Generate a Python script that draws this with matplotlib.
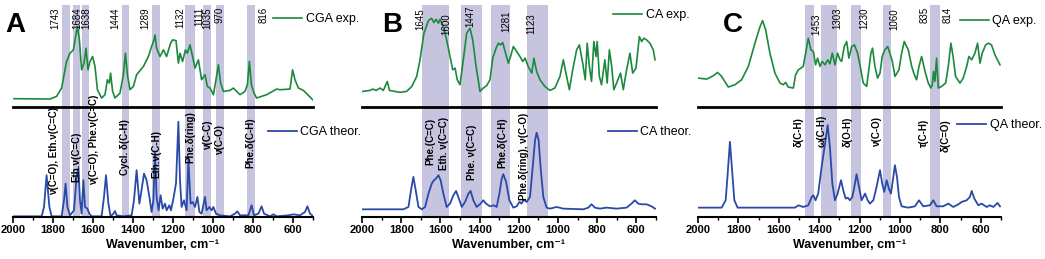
import matplotlib
matplotlib.use("Agg")
import matplotlib.pyplot as plt
from matplotlib.ticker import MultipleLocator

plt.rcParams['font.family'] = ['Liberation Sans', 'DejaVu Sans']

W, H = 1045, 259
GREEN = '#1b8a3c'
BLUE = '#2a4aa8'
BAND = '#c6c4df'

# ---- CGA (panel A) ----
cga_exp_wn = [1995, 1815, 1782, 1757, 1732, 1715, 1698, 1690, 1678, 1668,
              1657, 1645, 1635, 1625, 1615, 1602, 1590, 1578, 1557, 1540,
              1528, 1518, 1512, 1502, 1490, 1465, 1448, 1438, 1428, 1415,
              1398, 1382, 1348, 1323, 1307, 1295, 1290, 1282, 1265, 1248,
              1232, 1212, 1202, 1185, 1173, 1165, 1152, 1138, 1128, 1115,
              1102, 1090, 1073, 1057, 1040, 1028, 1015, 998, 985, 973,
              962, 948, 915, 898, 865, 840, 828, 818, 808, 795,
              782, 732, 682, 665, 615, 602, 590, 573, 548, 515, 502]
cga_exp_int = [25, 24, 32, 57, 137, 162, 172, 202, 242, 202,
               112, 132, 177, 112, 137, 152, 122, 52, 27, 37,
               82, 72, 102, 47, 27, 42, 97, 162, 97, 52,
               62, 97, 122, 152, 182, 202, 217, 177, 152, 172,
               152, 192, 202, 200, 132, 162, 137, 172, 162, 187,
               152, 117, 142, 82, 97, 62, 57, 37, 82, 127,
               72, 47, 50, 57, 37, 47, 67, 137, 67, 42,
               27, 37, 54, 52, 54, 112, 82, 57, 50, 30, 22]
cga_th_wn = [1995, 1857, 1845, 1832, 1818, 1807, 1757, 1745, 1737, 1728,
             1715, 1695, 1682, 1673, 1665, 1657, 1648, 1640, 1628, 1618,
             1607, 1557, 1545, 1535, 1523, 1512, 1498, 1490, 1482, 1448,
             1407, 1395, 1382, 1368, 1360, 1345, 1332, 1318, 1307, 1298,
             1290, 1282, 1272, 1262, 1252, 1240, 1232, 1218, 1210, 1198,
             1185, 1173, 1165, 1157, 1145, 1132, 1123, 1112, 1102, 1090,
             1078, 1068, 1057, 1040, 1032, 1018, 1007, 998, 985, 965,
             915, 890, 878, 865, 823, 807, 795, 773, 757, 745,
             715, 698, 682, 623, 598, 565, 540, 528, 515, 498]
cga_th_int = [2, 2, 30, 125, 30, 2, 2, 50, 100, 30,
              5, 20, 120, 145, 50, 10, 110, 30, 25, 10,
              2, 2, 60, 125, 40, 2, 10, 18, 5, 2,
              5, 50, 140, 40, 70, 130, 110, 60, 15, 50,
              195, 60, 20, 65, 25, 40, 20, 35, 20, 55,
              100, 285, 110, 30, 50, 20, 170, 40, 45, 30,
              60, 15, 10, 60, 20, 30, 20, 30, 10, 5,
              2, 10, 17, 5, 5, 35, 5, 10, 32, 10,
              2, 8, 2, 5, 8, 5, 15, 32, 10, 2]
cga_bands = [(1757, 1715), (1702, 1665), (1657, 1618), (1457, 1418), (1307, 1265),
             (1140, 1090), (1052, 1012), (985, 945), (832, 790)]

# ---- CA (panel B) ----
ca_exp_wn = [1996, 1959, 1945, 1928, 1908, 1891, 1871, 1860, 1806, 1772,
             1746, 1721, 1704, 1684, 1661, 1645, 1633, 1622, 1610, 1602,
             1588, 1568, 1551, 1537, 1525, 1514, 1500, 1483, 1466, 1449,
             1435, 1418, 1398, 1381, 1364, 1347, 1333, 1316, 1304, 1293,
             1282, 1270, 1253, 1242, 1228, 1211, 1194, 1180, 1168, 1152,
             1134, 1123, 1109, 1092, 1067, 1041, 1016, 990, 973, 956,
             942, 925, 905, 891, 874, 861, 851, 840, 829, 817,
             806, 800, 789, 778, 761, 749, 738, 726, 715, 701,
             681, 667, 650, 633, 619, 602, 585, 573, 562, 548,
             531, 514, 505]
ca_exp_int = [47, 50, 54, 50, 57, 50, 77, 50, 44, 47,
              62, 92, 142, 222, 260, 267, 254, 264, 252, 264,
              247, 202, 152, 112, 117, 82, 67, 142, 222, 237,
              202, 122, 47, 57, 64, 82, 147, 177, 192, 187,
              194, 167, 132, 152, 182, 167, 152, 137, 147, 122,
              102, 147, 107, 82, 62, 50, 57, 92, 142, 92,
              52, 112, 172, 187, 132, 82, 192, 122, 77, 197,
              152, 197, 92, 67, 142, 72, 172, 122, 52, 72,
              102, 52, 112, 162, 102, 117, 212, 197, 207, 202,
              192, 172, 142]
ca_th_wn = [1996, 1789, 1763, 1750, 1738, 1726, 1712, 1695, 1678, 1661,
            1644, 1633, 1622, 1610, 1599, 1585, 1568, 1551, 1534, 1520,
            1509, 1491, 1474, 1457, 1446, 1432, 1415, 1395, 1381, 1367,
            1347, 1327, 1313, 1299, 1287, 1279, 1265, 1248, 1228, 1211,
            1197, 1186, 1174, 1160, 1143, 1129, 1117, 1109, 1099, 1089,
            1075, 1058, 1041, 1007, 973, 871, 845, 829, 812, 786,
            752, 701, 650, 625, 608, 591, 573, 548, 523, 505]
ca_th_int = [23, 23, 30, 80, 120, 80, 30, 23, 30, 70,
             100, 110, 115, 125, 110, 70, 30, 40, 65, 78,
             60, 30, 45, 70, 78, 50, 30, 40, 50, 40,
             32, 35, 30, 70, 115, 128, 105, 50, 28, 32,
             45, 40, 52, 45, 60, 150, 230, 252, 230, 150,
             60, 28, 25, 30, 25, 23, 28, 38, 28, 25,
             28, 25, 28, 40, 50, 40, 38, 38, 32, 25]
ca_bands = [(1692, 1556), (1495, 1390), (1342, 1245), (1157, 1049)]

# ---- QA (panel C) ----
qa_exp_wn = [1998, 1957, 1924, 1903, 1883, 1850, 1817, 1784, 1751, 1718,
             1693, 1680, 1665, 1644, 1619, 1594, 1578, 1566, 1553, 1528,
             1517, 1503, 1479, 1467, 1454, 1441, 1429, 1418, 1408, 1396,
             1385, 1371, 1358, 1347, 1335, 1322, 1309, 1297, 1289, 1276,
             1264, 1253, 1239, 1226, 1210, 1197, 1182, 1165, 1144, 1136,
             1124, 1111, 1099, 1088, 1075, 1061, 1050, 1038, 1025, 1005,
             992, 979, 959, 942, 929, 918, 906, 893, 876, 860,
             847, 840, 834, 827, 819, 810, 794, 774, 761, 748,
             736, 725, 703, 687, 670, 659, 645, 629, 616, 604,
             593, 576, 563, 547, 530, 505]
qa_exp_int = [87, 84, 94, 104, 92, 60, 67, 82, 122, 192,
              242, 260, 232, 162, 102, 72, 67, 74, 60, 57,
              97, 112, 122, 162, 207, 172, 167, 127, 147, 122,
              137, 127, 142, 130, 162, 127, 162, 142, 137, 182,
              197, 147, 182, 187, 162, 122, 72, 62, 162, 177,
              122, 87, 102, 152, 172, 182, 162, 137, 92, 112,
              162, 197, 172, 122, 97, 82, 122, 152, 107, 72,
              57, 67, 107, 77, 147, 57, 62, 72, 122, 192,
              147, 92, 72, 87, 122, 152, 142, 162, 192, 132,
              162, 187, 192, 187, 157, 127]
qa_th_wn = [1998, 1883, 1863, 1853, 1842, 1830, 1820, 1804, 1520, 1503,
            1479, 1454, 1437, 1429, 1418, 1405, 1388, 1371, 1358, 1347,
            1335, 1322, 1309, 1292, 1281, 1269, 1259, 1248, 1236, 1226,
            1215, 1203, 1190, 1173, 1160, 1149, 1132, 1116, 1099, 1088,
            1078, 1066, 1055, 1045, 1033, 1025, 1015, 1005, 992, 959,
            926, 906, 885, 852, 835, 819, 786, 761, 736, 711,
            695, 670, 654, 645, 632, 612, 596, 571, 555, 538,
            517, 505]
qa_th_int = [28, 28, 50, 130, 225, 130, 50, 28, 28, 35,
             30, 35, 60, 65, 50, 70, 150, 220, 275, 210,
             100, 50, 70, 110, 80, 55, 58, 50, 60, 90,
             128, 90, 50, 70, 50, 40, 50, 90, 140, 100,
             75, 110, 85, 70, 120, 155, 120, 60, 32, 28,
             32, 50, 32, 35, 50, 32, 32, 40, 30, 38,
             45, 50, 60, 78, 55, 35, 40, 30, 35, 30,
             42, 32]
qa_bands = [(1470, 1424), (1393, 1314), (1244, 1195), (1083, 1045), (852, 802)]

xticks = [2000, 1800, 1600, 1400, 1200, 1000, 800, 600]

# layout: pixel extents, peak labels (text, x, top px), mode labels (text, x, bottom px)
panels = [
    dict(letter='A', x0=13, x1=313, lx=5, name='CGA',
         exp=(cga_exp_wn, cga_exp_int), th=(cga_th_wn, cga_th_int), bands=cga_bands,
         peaks=[('1743', 1790, 7), ('1684', 1678, 7), ('1638', 1635, 7), ('1444', 1490, 7),
                ('1289', 1337, 7), ('1132', 1165, 7), ('1111', 1070, 7), ('1035', 1028, 7),
                ('970', 968, 7), ('816', 748, 7)],
         modes=[('ν(C=O), Eth.ν(C=C)', 1793, 195), ('Eth.ν(C=C)', 1685, 182),
                ('ν(C=O), Phe.ν(C=C)', 1593, 185), ('Cycl. δ(C-H)', 1440, 175),
                ('Eth.ν(C-H)', 1285, 178), ('Phe.δ(ring)', 1112, 163),
                ('ν(C-C)', 1023, 150), ('ν(C-O)', 965, 155), ('Phe.δ(C-H)', 812, 168)],
         leg_exp=(273, 19), leg_th=(268, 132)),
    dict(letter='B', x0=362, x1=656, lx=382, name='CA',
         exp=(ca_exp_wn, ca_exp_int), th=(ca_th_wn, ca_th_int), bands=ca_bands,
         peaks=[('1645', 1704, 8), ('1600', 1568, 13), ('1447', 1446, 5),
                ('1281', 1265, 10), ('1123', 1134, 13)],
         modes=[('Phe.(C=C)', 1653, 165), ('Eth. ν(C=C)', 1580, 170),
                ('Phe. ν(C=C)', 1440, 180), ('Phe.δ(C-H)', 1282, 168),
                ('Phe.δ(ring), ν(C-O)', 1174, 200)],
         leg_exp=(613, 15), leg_th=(608, 132)),
    dict(letter='C', x0=698, x1=1001, lx=723, name='QA',
         exp=(qa_exp_wn, qa_exp_int), th=(qa_th_wn, qa_th_int), bands=qa_bands,
         peaks=[('1453', 1413, 13), ('1303', 1309, 7), ('1230', 1177, 7),
                ('1060', 1028, 8), ('835', 876, 7), ('814', 764, 7)],
         modes=[('δ(C-H)', 1500, 147), ('ω(C-H)', 1388, 147), ('δ(O-H)', 1259, 147),
                ('ν(C-O)', 1116, 147), ('τ(C-H)', 880, 147), ('δ(C=O)', 774, 152)],
         leg_exp=(960, 21), leg_th=(957, 125)),
]

TOP0, MID, BOT = 5, 107, 217

fig = plt.figure(figsize=(W / 100, H / 100), dpi=100)


def px_axes(x0, x1, y0, y1):
    return fig.add_axes([x0 / W, 1 - y1 / H, (x1 - x0) / W, (y1 - y0) / H])


for p in panels:
    wpx = p['x1'] - p['x0']
    top = px_axes(p['x0'], p['x1'], TOP0, MID)
    bot = px_axes(p['x0'], p['x1'], MID, BOT)
    for ax in (top, bot):
        ax.set_xlim(2000, 500)
        ax.patch.set_alpha(0)
        for lo, hi in p['bands']:
            ax.axvspan(lo, hi, color=BAND, lw=0, zorder=0)
        ax.set_yticks([])
        for s in ['left', 'right']:
            ax.spines[s].set_visible(False)
    top.set_ylim(0, 307)
    bot.set_ylim(0, 329)
    top.spines['top'].set_visible(False)
    top.spines['bottom'].set_visible(False)
    top.set_xticks([])
    bot.spines['top'].set_linewidth(2.0)
    bot.spines['bottom'].set_linewidth(1.5)

    top.plot(*p['exp'], color=GREEN, lw=1.2, label=f"{p['name']} exp.")
    bot.plot(*p['th'], color=BLUE, lw=1.3, label=f"{p['name']} theor.")

    lx, ly = p['leg_exp']
    top.legend(loc='center left', bbox_to_anchor=((lx - p['x0']) / wpx, (MID - ly) / (MID - TOP0)),
               frameon=False, borderaxespad=0, borderpad=0, handlelength=2.3,
               handletextpad=0.3, fontsize=9)
    lx, ly = p['leg_th']
    bot.legend(loc='center left', bbox_to_anchor=((lx - p['x0']) / wpx, (BOT - ly) / (BOT - MID)),
               frameon=False, borderaxespad=0, borderpad=0, handlelength=2.3,
               handletextpad=0.3, fontsize=9)

    for txt, x, ypx in p['peaks']:
        top.text(x, (MID - ypx) / (MID - TOP0), txt, transform=top.get_xaxis_transform(),
                 rotation=90, ha='center', va='top', fontsize=7, clip_on=False)
    for txt, x, ypx in p['modes']:
        bot.text(x, (BOT - ypx) / (BOT - MID), txt, transform=bot.get_xaxis_transform(),
                 rotation=90, ha='center', va='bottom', fontsize=7, fontweight='bold',
                 clip_on=False, zorder=5)

    bot.set_xticks(xticks)
    bot.xaxis.set_minor_locator(MultipleLocator(100))
    bot.tick_params(axis='x', which='major', direction='out', length=4, width=1.2,
                    labelsize=8, pad=2)
    bot.tick_params(axis='x', which='minor', direction='out', length=2.5, width=1.0)
    for lbl in bot.get_xticklabels():
        lbl.set_fontweight('bold')
    bot.set_xlabel('Wavenumber, cm⁻¹', fontsize=9, fontweight='bold', labelpad=3)

    fig.text(p['lx'] / W, 1 - 32 / H, p['letter'], fontsize=20, fontweight='bold',
             va='baseline', ha='left')

fig.savefig('out.png', dpi=100)
